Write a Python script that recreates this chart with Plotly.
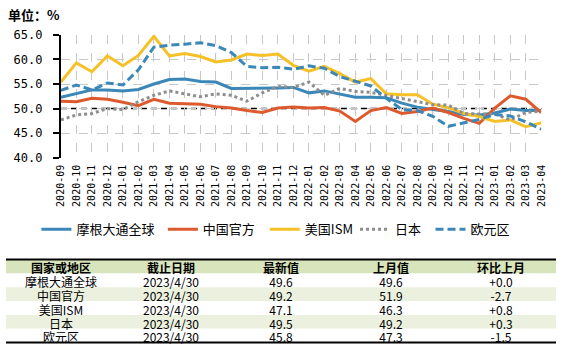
import plotly.graph_objects as go

months = ["2020-09","2020-10","2020-11","2020-12",
          "2021-01","2021-02","2021-03","2021-04","2021-05","2021-06",
          "2021-07","2021-08","2021-09","2021-10","2021-11","2021-12",
          "2022-01","2022-02","2022-03","2022-04","2022-05","2022-06",
          "2022-07","2022-08","2022-09","2022-10","2022-11","2022-12",
          "2023-01","2023-02","2023-03","2023-04"]

jpm_global = [52.3,53.0,53.8,53.8,53.6,53.9,55.0,55.9,56.0,55.5,55.4,54.1,
              54.1,54.2,54.2,54.3,53.2,53.6,52.9,52.3,52.3,52.2,51.1,50.3,
              49.8,49.4,48.8,48.7,49.1,49.9,49.6,49.6]
china_official = [51.5,51.4,52.1,51.9,51.3,50.6,51.9,51.1,51.0,50.9,50.4,50.1,
                  49.6,49.2,50.1,50.3,50.1,50.2,49.5,47.4,49.6,50.2,49.0,49.4,
                  50.1,49.2,48.0,47.0,50.1,52.6,51.9,49.2]
us_ism = [55.4,59.3,57.5,60.7,58.7,60.8,64.7,60.7,61.2,60.6,59.5,59.9,
          61.1,60.8,61.1,58.8,57.6,58.6,57.1,55.4,56.1,53.0,52.8,52.8,
          50.9,50.2,49.0,48.4,47.4,47.7,46.3,47.1]
japan = [47.7,48.7,49.0,50.0,49.8,51.4,52.7,53.6,53.0,52.4,53.0,52.7,
         51.5,53.2,54.5,54.3,55.4,52.7,54.1,53.5,53.3,52.7,52.1,51.5,
         50.8,50.7,49.0,48.9,48.9,47.7,49.2,49.5]
eurozone = [53.7,54.8,53.8,55.2,54.8,57.9,62.5,62.9,63.1,63.4,62.8,61.4,
            58.6,58.3,58.4,58.0,58.7,58.2,56.5,55.5,54.6,52.1,49.8,49.6,
            48.4,46.4,47.1,47.8,48.8,48.5,47.3,45.8]

series_names = ["摩根大通全球", "中国官方", "美国ISM", "日本", "欧元区"]

tbl_header = ["国家或地区", "截止日期", "最新值", "上月值", "环比上月"]
tbl_region = ["摩根大通全球", "中国官方", "美国ISM", "日本", "欧元区"]
tbl_date = ["2023/4/30"] * 5
tbl_latest = ["49.6", "49.2", "47.1", "49.5", "45.8"]
tbl_prev = ["49.6", "51.9", "46.3", "49.2", "47.3"]
tbl_change = ["+0.0", "-2.7", "+0.8", "+0.3", "-1.5"]

W, H = 561, 352
CJK = "Noto Sans CJK SC"
MONO = "DejaVu Sans Mono"

# plot area in pixels
px_l, px_r, px_t, px_b = 56, 546, 29, 157

fig = go.Figure()

styles = [
    dict(color="#3b88b8", width=3, dash="solid"),
    dict(color="#dc5a2e", width=3, dash="solid"),
    dict(color="#f6c127", width=3, dash="solid"),
    dict(color="#8e8e8e", width=3, dash="3px,3px"),
    dict(color="#3b88b8", width=3, dash="8px,4px"),
]
legend_ids = ["legend", "legend2", "legend3", "legend4", "legend5"]
legend_px = [31, 160, 264, 356, 433]   # left edge of each legend entry (pixels)
data = [jpm_global, china_official, us_ism, japan, eurozone]
for i in range(5):
    fig.add_trace(go.Scatter(
        x=months, y=data[i], mode="lines", name=series_names[i],
        line=styles[i], legend=legend_ids[i],
    ))

fig.add_shape(type="line", xref="x domain", yref="y", x0=0, x1=1, y0=50, y1=50,
              line=dict(color="black", width=1.5, dash="6px,4px"), layer="below")

# ---- table drawn on its own hidden axes ----
tbl_top, tbl_bot = 263, 349.5
columns = [tbl_region, tbl_date, tbl_latest, tbl_prev, tbl_change]
n_rows = len(tbl_region)
row_fill = ["white", "#ebf1de", "white", "#ebf1de", "white"]
TXT_DY = 0.27  # vertical nudge of the text inside a row (CJK font metrics)

fig.add_shape(type="rect", xref="x2", yref="y2", x0=0, x1=5, y0=0, y1=1,
              fillcolor="#d8e4bc", line=dict(width=0), layer="below")
for r in range(n_rows):
    fig.add_shape(type="rect", xref="x2", yref="y2", x0=0, x1=5, y0=r + 1, y1=r + 2,
                  fillcolor=row_fill[r], line=dict(width=0), layer="below")

fig.add_trace(go.Scatter(
    x=[c + 0.5 for c in range(5)], y=[0.5 + TXT_DY] * 5,
    text=[f"<b>{h}</b>" for h in tbl_header], mode="text",
    textfont=dict(family=CJK, size=12, color="black"),
    xaxis="x2", yaxis="y2", showlegend=False, hoverinfo="skip", cliponaxis=False))
for c, col in enumerate(columns):
    fig.add_trace(go.Scatter(
        x=[c + 0.5] * n_rows, y=[r + 1.5 + TXT_DY for r in range(n_rows)],
        text=col, mode="text",
        textfont=dict(family=CJK, size=12, color="black"),
        xaxis="x2", yaxis="y2", showlegend=False, hoverinfo="skip", cliponaxis=False))

for yy in [tbl_top, tbl_bot]:
    fig.add_shape(type="line", xref="paper", yref="paper", x0=0, x1=1,
                  y0=1 - yy / H, y1=1 - yy / H, line=dict(color="black", width=2))

fig.add_annotation(text="<b>单位：%</b>", xref="paper", yref="paper",
                   x=0, y=1 - 8 / H, xanchor="left", yanchor="middle",
                   showarrow=False, font=dict(family=CJK, size=13, color="black"))

legend_layout = {}
for lid, lx in zip(legend_ids, legend_px):
    legend_layout[lid] = dict(orientation="h", x=lx / W, y=1 - 216 / H,
                              xanchor="left", yanchor="top",
                              font=dict(family=CJK, size=13, color="black"),
                              bgcolor="rgba(0,0,0,0)", itemwidth=30)

fig.update_layout(
    width=W, height=H, margin=dict(l=0, r=0, t=0, b=0),
    paper_bgcolor="white", plot_bgcolor="white",
    showlegend=True,
    **legend_layout,
    xaxis=dict(domain=[px_l / W, px_r / W], type="category", range=[0, 31],
               showgrid=True, gridcolor="#c8c8c8", griddash="dash", gridwidth=1,
               showline=False, ticks="", tickangle=-90,
               tickfont=dict(family=MONO, size=10, color="black"),
               ticklabelstandoff=4),
    yaxis=dict(domain=[1 - px_b / H, 1 - px_t / H], range=[40, 65], dtick=5,
               tickformat=".1f", showgrid=True, gridcolor="#c8c8c8", griddash="dash",
               gridwidth=1, zeroline=False, showline=True, linecolor="black",
               linewidth=2, ticks="outside", ticklen=6, tickcolor="black", tickwidth=2,
               tickfont=dict(family=MONO, size=12, color="black"),
               ticklabelstandoff=8),
    xaxis2=dict(domain=[0, 1], range=[0, 5], visible=False, fixedrange=True),
    yaxis2=dict(domain=[1 - tbl_bot / H, 1 - tbl_top / H], range=[6, 0],
                visible=False, fixedrange=True),
)

fig.write_html("out.html")
